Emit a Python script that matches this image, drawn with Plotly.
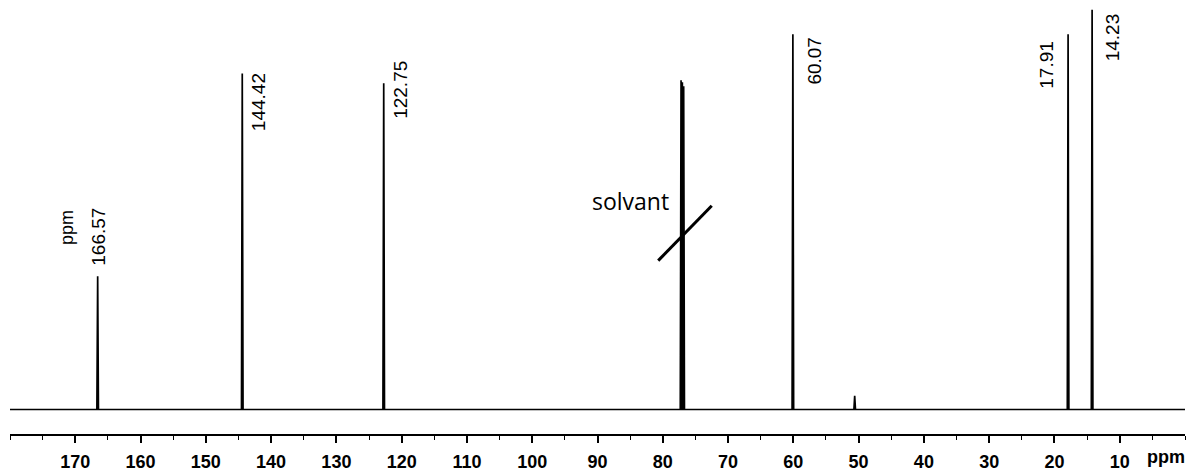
import plotly.graph_objects as go

# ---- data ----
peak_ppm = [166.57, 144.42, 122.75, 60.07, 50.6, 17.91, 14.23]
peak_height = [136, 343, 333, 383, 14, 383, 408]
solvent_ppm = [77.20, 77.00, 76.80]
solvent_height = [336, 334, 330]
labelled_peaks = [166.57, 144.42, 122.75, 60.07, 17.91, 14.23]
tick_values = [170, 160, 150, 140, 130, 120, 110, 100, 90, 80, 70, 60, 50, 40, 30, 20, 10]
tick_labels = [str(v) for v in tick_values]
x_range = [180, 0]

# ---- build the spectrum trace from the peak lists ----
all_peaks = sorted(list(zip(peak_ppm, peak_height)) + list(zip(solvent_ppm, solvent_height)),
                   key=lambda t: -t[0])
xs = [x_range[0]]
ys = [0]
half_w = 0.12
for p, h in all_peaks:
    xs += [p + half_w, p, p - half_w]
    ys += [0, h, 0]
xs.append(x_range[1])
ys.append(0)

fig = go.Figure()
fig.add_trace(go.Scatter(x=xs, y=ys, mode="lines",
                         line=dict(color="black", width=1.7),
                         hoverinfo="skip", showlegend=False))

# peak labels (vertical text)
label_style = {
    166.57: dict(xshift=0, y=176),
    144.42: dict(xshift=17, y=314),
    122.75: dict(xshift=16, y=326),
    60.07: dict(xshift=22, y=356),
    17.91: dict(xshift=-21, y=352),
    14.23: dict(xshift=20, y=380),
}
for p in labelled_peaks:
    st = label_style[p]
    fig.add_annotation(x=p, y=st["y"], xref="x", yref="y", text=f"{p:.2f}",
                       showarrow=False, textangle=-90, xshift=st["xshift"],
                       font=dict(family="Liberation Sans, Arial", size=19, color="black"))

fig.add_annotation(x=166.57, y=186, xref="x", yref="y", text="ppm", showarrow=False,
                   textangle=-90, xshift=-30,
                   font=dict(family="Liberation Sans, Arial", size=18, color="black"))

# solvent label and slash
fig.add_annotation(x=85.0, y=213, xref="x", yref="y", text="solvant", showarrow=False,
                   font=dict(family="Open Sans", size=23, color="black"))
fig.add_shape(type="line", x0=80.7, y0=152, x1=72.5, y1=208, xref="x", yref="y",
              line=dict(color="black", width=3))

# "ppm" unit at the end of the axis
fig.add_annotation(x=1, y=0, xref="paper", yref="paper", text="<b>ppm</b>", showarrow=False,
                   xanchor="right", yanchor="top", yshift=-11, xshift=2,
                   font=dict(family="Liberation Sans, Arial", size=18, color="black"))

fig.update_xaxes(range=x_range, tickvals=tick_values, ticktext=tick_labels,
                 showline=True, linecolor="black", linewidth=2, mirror=False,
                 ticks="outside", ticklen=7, tickwidth=1.5, tickcolor="black",
                 minor=dict(dtick=5, ticks="outside", ticklen=4, tickwidth=1.2, tickcolor="black"),
                 showgrid=False, zeroline=False, ticklabelstandoff=3,
                 tickfont=dict(family="Liberation Sans, Arial", size=18, color="black", weight="bold"),
                 fixedrange=True)
fig.update_yaxes(range=[-25, 418], visible=False, showgrid=False, zeroline=False, fixedrange=True)

fig.update_layout(width=1189, height=472, margin=dict(l=10, r=4, t=0, b=29),
                  plot_bgcolor="white", paper_bgcolor="white")

fig.write_html("out.html")
